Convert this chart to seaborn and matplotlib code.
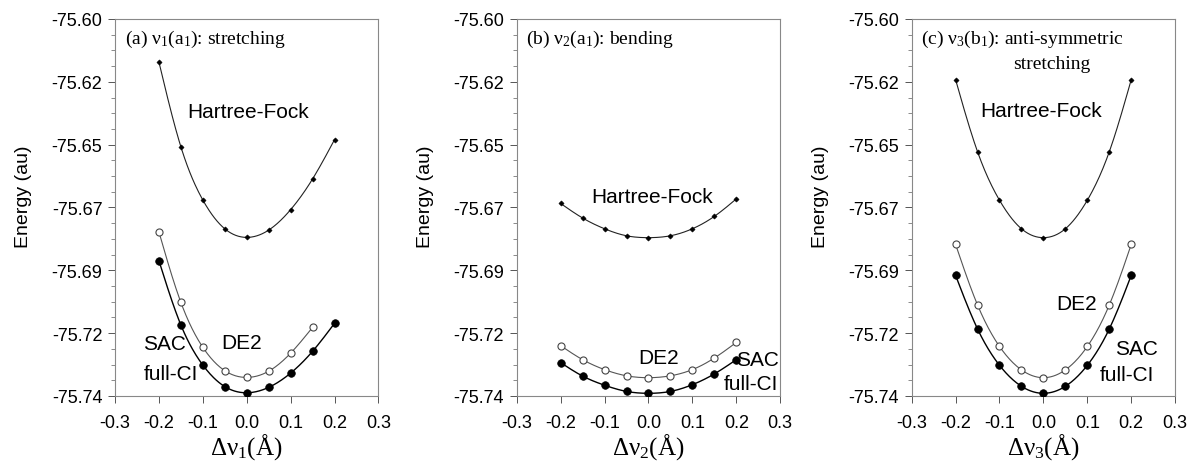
import numpy as np
import pandas as pd
import matplotlib
matplotlib.use("Agg")
import matplotlib.pyplot as plt
import seaborn as sns
from matplotlib.ticker import FixedLocator, FixedFormatter, AutoMinorLocator

# ---------------- data ----------------
disp = [-0.2, -0.15, -0.1, -0.05, 0.0, 0.05, 0.1, 0.15, 0.2]
disp_de2_a = [-0.2, -0.15, -0.1, -0.05, 0.0, 0.05, 0.1, 0.15]

hf_a = [-75.6159, -75.6474, -75.6672, -75.6779, -75.6811, -75.6784, -75.6708, -75.6594, -75.6448]
de2_a = [-75.6790, -75.7052, -75.7219, -75.7306, -75.7331, -75.7308, -75.7241, -75.7145]
sac_a = [-75.6897, -75.7136, -75.7285, -75.7365, -75.7388, -75.7368, -75.7315, -75.7234, -75.7130]

hf_b = [-75.6685, -75.6739, -75.6779, -75.6805, -75.6812, -75.6805, -75.6779, -75.6733, -75.6668]
de2_b = [-75.7213, -75.7265, -75.7302, -75.7325, -75.7332, -75.7325, -75.7302, -75.7259, -75.7201]
sac_b = [-75.7276, -75.7326, -75.7360, -75.7383, -75.7390, -75.7383, -75.7358, -75.7318, -75.7265]

hf_c = [-75.6225, -75.6493, -75.6673, -75.6779, -75.6812, -75.6779, -75.6673, -75.6493, -75.6225]
de2_c = [-75.6837, -75.7062, -75.7216, -75.7303, -75.7332, -75.7303, -75.7216, -75.7062, -75.6837]
sac_c = [-75.6952, -75.7151, -75.7286, -75.7364, -75.7390, -75.7364, -75.7286, -75.7151, -75.6952]

x_tick_values = [-0.3, -0.2, -0.1, 0.0, 0.1, 0.2, 0.3]
x_tick_labels = ["-0.3", "-0.2", "-0.1", "0.0", "0.1", "0.2", "0.3"]
y_tick_labels = ["-75.74", "-75.72", "-75.69", "-75.67", "-75.65", "-75.62", "-75.60"]

titles = [r"(a) $\mathrm{\nu_1(a_1)}$: stretching",
          r"(b) $\mathrm{\nu_2(a_1)}$: bending",
          r"(c) $\mathrm{\nu_3(b_1)}$: anti-symmetric"]
xlabels = [r"$\mathrm{\Delta\nu_1(\AA)}$", r"$\mathrm{\Delta\nu_2(\AA)}$", r"$\mathrm{\Delta\nu_3(\AA)}$"]


def smooth_curve(x, y, n=200):
    """Natural cubic spline through the data points (for a smooth connecting line)."""
    x = np.asarray(x, float)
    y = np.asarray(y, float)
    k = len(x)
    h = np.diff(x)
    A = np.zeros((k, k))
    r = np.zeros(k)
    A[0, 0] = A[-1, -1] = 1.0
    for j in range(1, k - 1):
        A[j, j - 1] = h[j - 1]
        A[j, j] = 2 * (h[j - 1] + h[j])
        A[j, j + 1] = h[j]
        r[j] = 3 * ((y[j + 1] - y[j]) / h[j] - (y[j] - y[j - 1]) / h[j - 1])
    c = np.linalg.solve(A, r)
    b = (y[1:] - y[:-1]) / h - h * (2 * c[:-1] + c[1:]) / 3
    d = (c[1:] - c[:-1]) / (3 * h)
    xs = np.linspace(x[0], x[-1], n)
    idx = np.clip(np.searchsorted(x, xs) - 1, 0, k - 2)
    t = xs - x[idx]
    ys = y[idx] + b[idx] * t + c[idx] * t ** 2 + d[idx] * t ** 3
    return pd.DataFrame({"x": xs, "E": ys})


# ---------------- style ----------------
sns.set_theme(style="ticks")
plt.rcParams["font.family"] = ["Liberation Sans", "DejaVu Sans"]
plt.rcParams["text.color"] = "black"
plt.rcParams["axes.labelcolor"] = "black"
plt.rcParams["xtick.labelcolor"] = "black"
plt.rcParams["ytick.labelcolor"] = "black"
plt.rcParams["mathtext.fontset"] = "custom"
plt.rcParams["mathtext.rm"] = "Liberation Serif"
plt.rcParams["mathtext.it"] = "Liberation Serif:italic"
plt.rcParams["mathtext.bf"] = "Liberation Serif:bold"

fig = plt.figure(figsize=(11.95, 4.64), dpi=100)
lefts = [0.0962, 0.4324, 0.7629]
width = 0.2205
bottom, height = 0.1444, 0.8125

panels = [
    (disp, hf_a, disp_de2_a, de2_a, disp, sac_a),
    (disp, hf_b, disp, de2_b, disp, sac_b),
    (disp, hf_c, disp, de2_c, disp, sac_c),
]

SERIF = ["Liberation Serif", "DejaVu Serif"]

for i, (xh, yh, xd, yd, xs, ys) in enumerate(panels):
    ax = fig.add_axes([lefts[i], bottom, width, height])
    # smooth connecting lines
    sns.lineplot(data=smooth_curve(xh, yh), x="x", y="E", ax=ax, estimator=None,
                 sort=False, color="#222222", lw=0.8)
    sns.lineplot(data=smooth_curve(xd, yd), x="x", y="E", ax=ax, estimator=None,
                 sort=False, color="#555555", lw=0.8)
    sns.lineplot(data=smooth_curve(xs, ys), x="x", y="E", ax=ax, estimator=None,
                 sort=False, color="black", lw=1.0)
    # data points
    sns.scatterplot(x=xh, y=yh, ax=ax, marker="D", s=7, color="black",
                    edgecolor="black", linewidth=0.4, zorder=3)
    sns.scatterplot(x=xd, y=yd, ax=ax, marker="o", s=26, facecolor="white",
                    edgecolor="#444444", linewidth=0.8, zorder=3)
    sns.scatterplot(x=xs, y=ys, ax=ax, marker="o", s=30, color="black",
                    edgecolor="black", linewidth=0.5, zorder=3)

    ax.set_xlim(-0.3, 0.3)
    ax.set_ylim(-75.74, -75.60)
    ax.xaxis.set_major_locator(FixedLocator(x_tick_values))
    ax.xaxis.set_major_formatter(FixedFormatter(x_tick_labels))
    ax.yaxis.set_major_locator(FixedLocator(np.linspace(-75.74, -75.60, len(y_tick_labels))))
    ax.yaxis.set_major_formatter(FixedFormatter(y_tick_labels))
    ax.yaxis.set_minor_locator(AutoMinorLocator(4))
    ax.tick_params(axis="both", which="major", direction="out", length=5, width=0.7,
                   color="#555555", labelsize=13, labelcolor="black")
    ax.tick_params(axis="x", which="major", pad=8)
    ax.tick_params(axis="y", which="major", pad=4)
    ax.tick_params(axis="y", which="minor", direction="out", length=3, width=0.6, color="#777777")
    for s in ax.spines.values():
        s.set_visible(True)
        s.set_color("#888888")
        s.set_linewidth(0.8)

    ax.set_ylabel("Energy (au)", fontsize=14, color="black")
    ax.yaxis.set_label_coords(-0.315, 0.53)
    ax.set_xlabel(xlabels[i], fontsize=18, color="black", labelpad=0)

    ax.text(-0.278, -75.6074, titles[i], fontsize=14, family=SERIF, va="center", ha="left")

# annotations
a, b, c = fig.axes
fs = 15
a.text(0.003, -75.6344, "Hartree-Fock", fontsize=fs, ha="center", va="center")
a.text(-0.0125, -75.7201, "DE2", fontsize=fs, ha="center", va="center")
a.text(-0.2355, -75.7204, "SAC", fontsize=fs, ha="left", va="center")
a.text(-0.2355, -75.7318, "full-CI", fontsize=fs, ha="left", va="center")

b.text(0.008, -75.6658, "Hartree-Fock", fontsize=fs, ha="center", va="center")
b.text(0.0225, -75.7256, "DE2", fontsize=fs, ha="center", va="center")
b.text(0.298, -75.7266, "SAC", fontsize=fs, ha="right", va="center")
b.text(0.296, -75.7352, "full-CI", fontsize=fs, ha="right", va="center")

c.text(-0.005, -75.634, "Hartree-Fock", fontsize=fs, ha="center", va="center")
c.text(0.075, -75.7058, "DE2", fontsize=fs, ha="center", va="center")
c.text(0.213, -75.7223, "SAC", fontsize=fs, ha="center", va="center")
c.text(0.19, -75.7322, "full-CI", fontsize=fs, ha="center", va="center")
c.text(0.018, -75.6167, "stretching", fontsize=14, family=SERIF, ha="center", va="center")

fig.savefig("out.png", dpi=100)
